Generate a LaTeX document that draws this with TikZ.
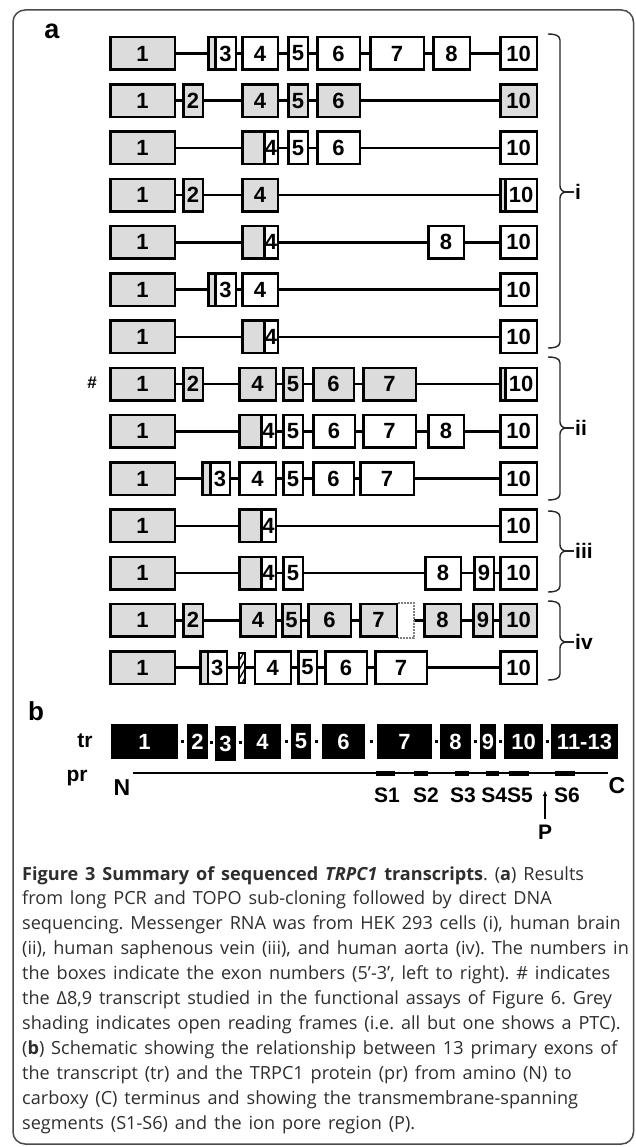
\documentclass[tikz,border=0pt]{standalone}
\usepackage{fontspec}
\setmainfont{Liberation Sans}
\newfontfamily\capfont{Open Sans}
\usetikzlibrary{arrows.meta,calc,patterns.meta}
\definecolor{exgrey}{HTML}{DCDCDC}
\definecolor{framegrey}{HTML}{4A4A4A}
\definecolor{captext}{HTML}{2E2E2E}
\tikzset{exon/.style={draw=black,line width=2.5pt,inner sep=0pt,minimum height=32.5pt,font=\fontsize{22}{22}\selectfont\bfseries},exg/.style={fill=exgrey},exw/.style={fill=white},hatch/.style={line width=2pt,minimum height=30pt,pattern={Lines[angle=60,distance=4.5pt,line width=1.3pt]}},dotbox/.style={draw=none,fill=white},dotline/.style={draw=gray,densely dotted,line width=2pt},intron/.style={line width=2.5pt},trex/.style={fill=black,text=white,inner sep=0pt,minimum height=35pt,font=\fontsize{22}{22}\selectfont\bfseries},trlink/.style={line width=3pt},prline/.style={line width=2.2pt},tmseg/.style={line width=5pt},lab/.style={inner sep=1pt,font=\fontsize{21}{21}\selectfont\bfseries},panel/.style={inner sep=0pt,font=\fontsize{27}{27}\selectfont\bfseries},brk/.style={line width=1.4pt,draw=black!85},parrow/.style={-{Latex[length=6pt,width=4.5pt]},line width=1.3pt},framebox/.style={draw=framegrey,line width=1.5pt,rounded corners=12pt},capnote/.style={inner sep=0pt,text width=625pt,align=left,text=captext,font=\capfont\fontsize{18.1}{24.9}\selectfont}}
\newcommand\exonrow[3]{\foreach \xa/\xb/\lab/\sty [count=\i, remember=\i as \j (initially 0), remember=\xb as \pxb (initially 0)] in {#3}{\node[exon,\sty,minimum width={\xb-\xa-2.5}] (#1-\i) at ({(\xa+\xb)/2},#2) {\lab};\pgfmathtruncatemacro\gap{and(\xa-\pxb>1.5,\i>1)}\ifnum\gap=1 \draw[intron] (#1-\j.east) -- (#1-\i.west);\fi}}
\newcommand\grpbrace[5]{\draw[brk] (548,#1) to[out=0,in=90] (560,#1+6) -- (560,#3-6) to[out=-90,in=180] (566,#3) to[out=180,in=90] (560,#3+6) -- (560,#2-6) to[out=-90,in=0] (548,#2);\coordinate (#4tip) at (566,#3);\node[lab,anchor=west] (#4) at (574,#3) {#5};\draw[brk] (#4tip) -- (#4.west);}

\begin{document}
\frenchspacing
\begin{tikzpicture}[x=1pt,y=-1pt]
\useasboundingbox (0,0) rectangle (635,1147);
\draw[framebox] (13,10) rectangle (633.5,1144);
\node[panel] (pa) at (52,31) {a};
\exonrow{r1}{53.5}{109/176/1/exg, 207/216.5//exg, 214/237/3/exw, 241/279/4/exw, 287/309/5/exw, 316/361/6/exw, 369/425/7/exw, 432/471/8/exw, 499/538/10/exw}
\exonrow{r2}{100.7}{109/176/1/exg, 182/204/2/exg, 241/279/4/exg, 287/309/5/exg, 316/361/6/exg, 499/538/10/exg}
\exonrow{r3}{148}{109/176/1/exg, 241/265.5//exg, 263/279/4/exw, 287/309/5/exw, 316/361/6/exw, 499/538/10/exw}
\exonrow{r4}{195.2}{109/176/1/exg, 182/204/2/exg, 241/279/4/exg, 499/506.5//exg, 504/538/10/exw}
\exonrow{r5}{242.4}{109/176/1/exg, 241/265.5//exg, 263/279/4/exw, 427/465/8/exw, 499/538/10/exw}
\exonrow{r6}{289.7}{109/176/1/exg, 207/216.5//exg, 214/237/3/exw, 241/279/4/exw, 499/538/10/exw}
\exonrow{r7}{336.9}{109/176/1/exg, 241/265.5//exg, 263/279/4/exw, 499/538/10/exw}
\node[lab,font=\fontsize{17}{17}\selectfont\bfseries] (hash) at (92,383) {\#};
\exonrow{r8}{384.1}{109/176/1/exg, 182/204/2/exg, 238/277/4/exg, 282/304/5/exg, 312/355/6/exg, 362/417/7/exg, 499/506.5//exg, 504/538/10/exw}
\exonrow{r9}{431.3}{109/176/1/exg, 238/262.5//exg, 260/277/4/exw, 282/304/5/exw, 312/356/6/exw, 362/417/7/exw, 427/465/8/exw, 499/538/10/exw}
\exonrow{r10}{478.6}{109/176/1/exg, 201/211.5//exg, 209/231/3/exw, 238/277/4/exw, 282/304/5/exw, 312/355/6/exw, 359/415/7/exw, 499/538/10/exw}
\exonrow{r11}{525.8}{109/176/1/exg, 238/262.5//exg, 260/277/4/exw, 499/538/10/exw}
\exonrow{r12}{573}{109/176/1/exg, 238/262.5//exg, 260/277/4/exw, 282/304/5/exw, 424/462/8/exw, 473/495/9/exw, 499/538/10/exw}
\exonrow{r13}{620.3}{109/176/1/exg, 182/204/2/exg, 239/277/4/exg, 281/302/5/exg, 307/352/6/exg, 359/398/7/exg, 398/414//dotbox, 423/462/8/exg, 472/494/9/exg, 499/538/10/exg}
\draw[dotline] (r13-7.north west) -- (r13-7.north east) -- (r13-7.south east) -- (r13-7.south west);
\exonrow{r14}{667.5}{109/176/1/exg, 199/209//exg, 206.5/228/3/exw, 238/246.5//hatch, 253.5/292/4/exw, 297/318/5/exw, 324/368/6/exw, 374/428/7/exw, 499/538/10/exw}
\grpbrace{34}{348}{192}{gi}{i}
\grpbrace{357}{500}{428}{gii}{ii}
\grpbrace{511}{592}{551}{giii}{iii}
\grpbrace{601}{680}{642}{giv}{iv}
\node[panel,font=\fontsize{26}{26}\selectfont\bfseries] (pb) at (36,711) {b};
\node[lab] (trlab) at (85,741) {tr};
\node[lab] (prlab) at (77,778) {pr};
\foreach \xa/\xb/\lab/\sh [count=\i, remember=\i as \j (initially 0)] in {111/178/1/0, 187/208/2/0, 215/236/3/2, 244/281/4/0, 291/311/5/0, 322/365/6/0, 377/432/7/0, 440/471/8/0, 480/496/9/0, 504/543/10/0, 551/618/11-13/0}{\node[trex,minimum width={\xb-\xa}] (tr\i) at ({(\xa+\xb)/2},{741.5+\sh}) {\lab};\ifnum\i>1 \draw[trlink] ($(tr\j.east)!.5!(tr\i.west)$) ++(-1.5,0) -- ++(3,0);\fi}
\coordinate (prN) at (133,773);
\coordinate (prC) at (608,773);
\draw[prline] (prN) -- (prC);
\foreach \a/\b in {376/395, 414/427.5, 455/468.5, 485.5/499, 508.7/529, 554.8/575}{\draw[tmseg] (\a,773) -- (\b,773);}
\node[lab,font=\fontsize{23}{23}\selectfont\bfseries] (nterm) at (122,788) {N};
\node[lab,font=\fontsize{23}{23}\selectfont\bfseries] (cterm) at (617,786) {C};
\node[lab] (s1) at (387,795) {S1};
\node[lab] (s2) at (426,795) {S2};
\node[lab] (s3) at (463,795) {S3};
\node[lab] (s45) at (507,795) {S4S5};
\node[lab] (s6) at (567,795) {S6};
\node[lab] (pore) at (545,832) {P};
\coordinate (porept) at (545,790);
\draw[parrow,shorten <=5pt] (pore.north) -- (porept);
\node[capnote,anchor=north west] (cap) at (22,866) {\spaceskip=0.38em\xspaceskip=0.38em\textbf{Figure 3 Summary of sequenced \textit{TRPC1} transcripts}. (\textbf{a}) Results\\from long PCR and TOPO sub-cloning followed by direct DNA\\sequencing. Messenger RNA was from HEK 293 cells (i), human brain\\(ii), human saphenous vein (iii), and human aorta (iv). The numbers in\\the boxes indicate the exon numbers (5’-3’, left to right). \# indicates\\the Δ8,9 transcript studied in the functional assays of Figure 6. Grey\\shading indicates open reading frames (i.e. all but one shows a PTC).\\(\textbf{b}) Schematic showing the relationship between 13 primary exons of\\the transcript (tr) and the TRPC1 protein (pr) from amino (N) to\\carboxy (C) terminus and showing the transmembrane-spanning\\segments (S1-S6) and the ion pore region (P).};
\end{tikzpicture}
\end{document}
